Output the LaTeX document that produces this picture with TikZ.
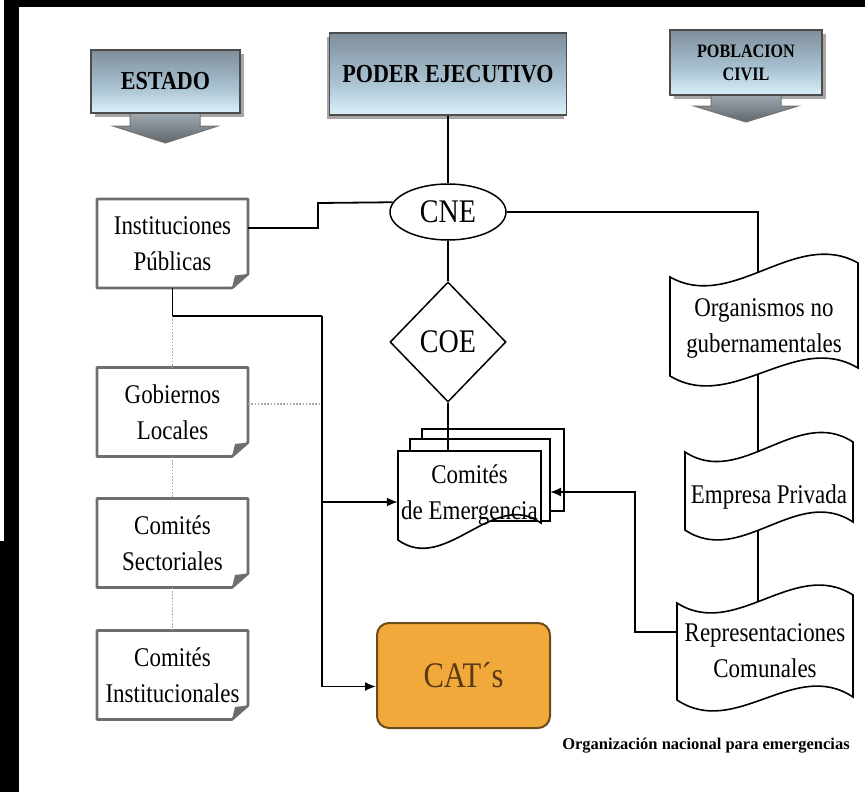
\documentclass[tikz,border=0pt]{standalone}
\usepackage{fontspec}
\setmainfont{Liberation Serif}
\newfontfamily\cond[FakeStretch=0.85]{Liberation Serif}
\usetikzlibrary{shapes.geometric,arrows.meta,calc}
\definecolor{hdtop}{HTML}{7F8E9B}
\definecolor{hdmid}{HTML}{A9C3D2}
\definecolor{hdbot}{HTML}{DCF1FA}
\definecolor{arrdark}{HTML}{5F676D}
\definecolor{arrlight}{HTML}{A7B0B6}
\definecolor{boxgray}{HTML}{6E6E6E}
\definecolor{catfill}{HTML}{F2A93B}
\definecolor{catdraw}{HTML}{6B4A1A}
\definecolor{cattext}{HTML}{5A3A12}
\pgfdeclareverticalshading{hdshade}{100bp}{color(0bp)=(hdbot); color(25bp)=(hdbot); color(45bp)=(hdmid); color(75bp)=(hdtop); color(100bp)=(hdtop)}
\pgfdeclareverticalshading{arrshade}{100bp}{color(0bp)=(arrdark); color(25bp)=(arrdark); color(75bp)=(arrlight); color(100bp)=(arrlight)}
\newcommand\docdraw[6]{\path[docline] (#1,#3) .. controls ({#1+(#2-#1)/3},{#3+(#4-#3)/3+40}) and ({#1+2*(#2-#1)/3},{#3+2*(#4-#3)/3-40}) .. (#2,#4) -- (#2,#6) .. controls ({#1+2*(#2-#1)/3},{#5+2*(#6-#5)/3-40}) and ({#1+(#2-#1)/3},{#5+(#6-#5)/3+40}) .. (#1,#5) -- cycle;}
\newcommand\lboxat[3]{%
  \path[lboxline] (97,{#2-44.5}) -- (248,{#2-44.5}) -- (248,{#2+30.5}) -- (232,{#2+44.5}) -- (97,{#2+44.5}) -- cycle;
  \fill[boxgray] (232,{#2+44.5}) -- (248,{#2+30.5}) -- (235,{#2+32}) -- cycle;
  \node[lbox] (#1) at (172.5,#2) {#3};}
\begin{document}
\begin{tikzpicture}[x=1pt,y=-1pt,
  conn/.style={line width=1.8pt, black},
  arr/.style={conn, -{Latex[length=11pt,width=9pt]}},
  lbl/.style={font=\cond\fontsize{27}{36}\selectfont, align=center, inner sep=0pt},
  lbox/.style={lbl, minimum width=151pt, minimum height=89pt},
  lboxline/.style={draw=boxgray, line width=2.6pt, fill=white, line join=round},
  docline/.style={draw=black, line width=1.6pt, fill=white},
  dots/.style={draw=gray!70, line width=1.4pt, dash pattern=on 1.6pt off 1.6pt},
  hdbox/.style={shade, shading=hdshade, draw=black!70, line width=1.5pt, inner sep=0pt, align=center, font=\cond\bfseries\fontsize{26}{30}\selectfont},
  arrshape/.style={shade, shading=arrshade, draw=black!55, line width=1pt}
]
\useasboundingbox (0,0) rectangle (865,792);
\fill[white] (0,0) rectangle (865,792);
% frame
\fill[black] (4,0) rectangle (865,7);
\fill[black] (4,0) rectangle (19,541);
\fill[black] (0,541) rectangle (19,792);

% header shapes
\fill[black!35] (95,54) rectangle (244,117);
\path[arrshape] (130,110) -- (200,110) -- (200,126) -- (218,126) -- (165.5,143) -- (113,126) -- (130,126) -- cycle;
\node[hdbox, minimum width=149pt, minimum height=63pt] (est) at (165.5,81.5) {ESTADO};

\fill[black!35] (327,37) rectangle (564,119);
\node[hdbox, minimum width=237pt, minimum height=82pt] (pe) at (448,74) {PODER EJECUTIVO};

\fill[black!35] (674,34) rectangle (826,99);
\path[arrshape] (711,92) -- (781,92) -- (781,106) -- (798,106) -- (746,122) -- (694,106) -- (711,106) -- cycle;
\node[hdbox, minimum width=152pt, minimum height=65pt, font=\cond\bfseries\fontsize{19}{23}\selectfont] (pc) at (746,62.5) {POBLACION\\CIVIL};

% central nodes
\node[ellipse, draw, line width=1.5pt, minimum width=116pt, minimum height=56pt, inner sep=0pt, font=\cond\fontsize{33}{36}\selectfont] (cne) at (448,212) {CNE};
\node[diamond, draw, line width=1.5pt, minimum width=116pt, minimum height=120pt, inner sep=0pt, font=\cond\fontsize{33}{36}\selectfont] (coe) at (448,342) {COE};

% comites de emergencia (stack)
\path[docline] (422,429) rectangle (564,511);
\path[docline] (410,439) rectangle (550,521);
\path[docline] (398,451) -- (541,451) -- (541,523) .. controls (493.3,488.7) and (445.7,574.3) .. (398,540) -- cycle;
\node[lbl, minimum width=143pt, minimum height=89pt] (ce) at (469.5,495.5) {Comités\\de Emergencia};

% CAT
\node[draw=catdraw, fill=catfill, line width=2pt, rounded corners=12pt, minimum width=173pt, minimum height=105pt, inner sep=0pt, font=\cond\fontsize{36}{40}\selectfont, text=cattext] (cat) at (463.5,675.5) {CAT´s};

% left boxes
\lboxat{ip}{243.5}{Instituciones\\Públicas}
\lboxat{gl}{412}{Gobiernos\\Locales}
\lboxat{cs}{543}{Comités\\Sectoriales}
\lboxat{ci}{675}{Comités\\Institucionales}

% right documents
\docdraw{670}{858}{277}{263}{376}{368}
\node[lbl] (org) at (764,328.5) {Organismos no\\gubernamentales};
\docdraw{685}{853}{452}{442}{530}{522}
\node[lbl] (emp) at (769,497) {Empresa Privada};
\docdraw{677}{853}{603}{595}{700}{697}
\node[lbl] (rep) at (765,651) {Representaciones\\Comunales};

% coordinates
\coordinate (j1) at (322,316);
\coordinate (j2) at (322,502);
\coordinate (k1) at (318,203);
\coordinate (orgt) at (758,272);
\coordinate (orgb) at (758,374);
\coordinate (empt) at (758,451);
\coordinate (empb) at (758,530);
\coordinate (rept) at (758,601);
\coordinate (repw) at (677,632);
\coordinate (cem) at (550,492);

% connectors
\draw[conn] (pe.south) -- (cne.north);
\draw[conn] (cne.south) -- (coe.north);
\draw[conn] (coe.south) -- (coe.south |- ce.north);
\draw[conn] ($(ip.east)+(0,-15.5)$) -| (k1) -- (cne.170);
\draw[conn] (cne.east) -| (orgt);
\draw[conn] (orgb) -- (empt);
\draw[conn] (empb) -- (rept);
\draw[conn] (ip.south) |- (j1);
\draw[arr] (j1) |- ($(cat.west)+(0,11)$);
\draw[arr] (j2) -- (j2 -| ce.west);
\draw[arr] (repw) -- ++(-42,0) |- (cem);

% dotted links
\draw[dots] (ip.south |- j1) -- (gl.north);
\draw[dots] (gl.south) -- (cs.north);
\draw[dots] (cs.south) -- (ci.north);
\draw[dots] ($(gl.east)+(0,-8)$) -- ++(72,0);

% caption
\node[font=\bfseries\fontsize{16.5}{20}\selectfont, inner sep=0pt] (cap) at (706,746) {Organización nacional para emergencias};
\end{tikzpicture}
\end{document}
